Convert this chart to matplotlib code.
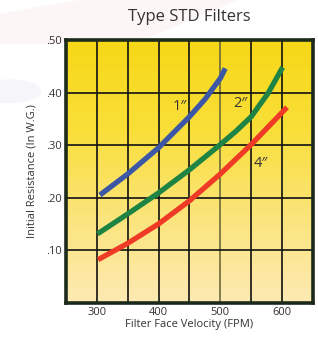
import numpy as np
import matplotlib
matplotlib.use("Agg")
import matplotlib.pyplot as plt
from matplotlib.colors import LinearSegmentedColormap
from matplotlib.patches import Polygon, Ellipse

# ---- data ----
v1 = [305, 350, 400, 450, 475, 500, 508]
r1 = [0.205, 0.245, 0.295, 0.354, 0.387, 0.427, 0.446]
v2 = [301, 350, 400, 450, 500, 525, 550, 577, 601]
r2 = [0.131, 0.169, 0.209, 0.253, 0.301, 0.326, 0.354, 0.398, 0.448]
v4 = [302, 350, 400, 450, 500, 550, 600, 608]
r4 = [0.082, 0.113, 0.150, 0.194, 0.245, 0.301, 0.362, 0.372]
series_labels = ['1\u2033', '2\u2033', '4\u2033']
xticks = [300, 400, 500, 600]
yticks = [0.10, 0.20, 0.30, 0.40, 0.50]
ytick_labels = ['.10', '.20', '.30', '.40', '.50']

plt.rcParams['font.family'] = ['Open Sans', 'DejaVu Sans']

fig = plt.figure(figsize=(3.18, 3.38), dpi=100)
fig.patch.set_facecolor('white')

# faint watermark shapes in a background axes
bg = fig.add_axes([0, 0, 1, 1], zorder=-5)
bg.set_xlim(0, 1)
bg.set_ylim(0, 1)
bg.axis('off')
bg.add_patch(Polygon([[0.0, 0.96], [0.25, 1.0], [0.75, 1.0], [0.42, 0.87], [0.0, 0.87]],
                     closed=True, facecolor='#fdf6f6', edgecolor='none'))
bg.add_patch(Ellipse((0.03, 0.73), 0.2, 0.07, facecolor='#f6f6fa', edgecolor='none'))

ax = fig.add_axes([0.2075, 0.1044, 0.7765, 0.7773])
ax.set_xlim(250, 650)
ax.set_ylim(0, 0.5)

cmap = LinearSegmentedColormap.from_list('yel', ['#fdeab4', '#fbe47a', '#f9de38', '#f6d816'])
grad = np.linspace(0, 1, 256).reshape(-1, 1)
ax.imshow(grad, extent=[250, 650, 0, 0.5], origin='lower', aspect='auto',
          cmap=cmap, zorder=0)

for x in np.arange(300, 650, 50):
    col = '#6e6a3a' if x == 500 else '#111111'
    ax.axvline(x, color=col, lw=1.2, zorder=1)
for y in yticks[:-1]:
    ax.axhline(y, color='#111111', lw=1.2, zorder=1)

ax.plot(v1, r1, color='#3c57a6', lw=3.8, solid_capstyle='butt', solid_joinstyle='round', zorder=3)
ax.plot(v2, r2, color='#1f8443', lw=3.8, solid_capstyle='butt', solid_joinstyle='round', zorder=3)
ax.plot(v4, r4, color='#ef3b25', lw=3.8, solid_capstyle='butt', solid_joinstyle='round', zorder=3)

ax.text(435, 0.373, series_labels[0], fontsize=10.5, color='#333333', ha='center', va='center', zorder=4)
ax.text(533, 0.380, series_labels[1], fontsize=10.5, color='#333333', ha='center', va='center', zorder=4)
ax.text(565, 0.264, series_labels[2], fontsize=10.5, color='#333333', ha='center', va='center', zorder=4)

for s in ax.spines.values():
    s.set_linewidth(2.6)
    s.set_color('#1c2a1c')

ax.set_xticks(xticks)
ax.set_yticks(yticks)
ax.set_yticklabels(ytick_labels)
ax.tick_params(length=0, labelsize=8, colors='#333333', pad=3)
ax.set_xlabel('Filter Face Velocity (FPM)', fontsize=8, color='#333333', labelpad=1)
ax.set_ylabel('Initial Resistance (In W.G.)', fontsize=8, color='#333333', labelpad=6)
ax.set_title('Type STD Filters', fontsize=12, color='#333333', pad=14)

fig.savefig('out.png', dpi=100)
